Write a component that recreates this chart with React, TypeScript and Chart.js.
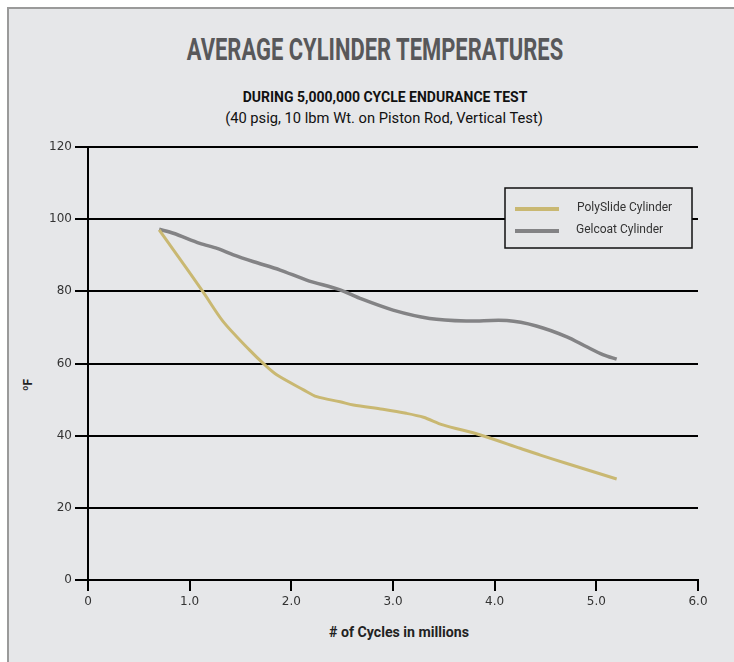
import React, { useEffect, useRef } from 'react';
import { Chart, registerables } from 'chart.js';
Chart.register(...registerables);

const polyX = [0.7, 0.84, 1.13, 1.33, 1.59, 1.74, 1.86, 2.12, 2.25, 2.48, 2.61, 2.9, 3.13, 3.3, 3.49, 3.86, 4.25, 4.45, 4.71, 5.2];
const polyY = [97.0, 91.5, 79.9, 71.6, 63.7, 59.6, 56.8, 52.7, 50.8, 49.4, 48.5, 47.3, 46.2, 45.1, 43.0, 40.2, 36.5, 34.6, 32.3, 28.0];
const gelX = [0.7, 0.84, 1.1, 1.27, 1.43, 1.63, 1.89, 2.15, 2.48, 2.67, 3.0, 3.36, 3.72, 4.12, 4.41, 4.71, 4.9, 5.07, 5.2];
const gelY = [97.2, 96.1, 93.3, 91.9, 90.1, 88.2, 85.9, 83.1, 80.4, 78.1, 74.8, 72.5, 71.8, 71.9, 70.4, 67.4, 64.7, 62.4, 61.2];
const seriesNames = ['PolySlide Cylinder', 'Gelcoat Cylinder'];
const seriesColors = ['#c9b872', '#838385'];
const xTicks = [0, 1, 2, 3, 4, 5, 6];
const yTicks = [0, 20, 40, 60, 80, 100, 120];

const BG = '#e6e7e9';
const FONT = 'Roboto, "DejaVu Sans", sans-serif';
const TICKFONT = '"DejaVu Sans", sans-serif';

const boxLegend = {
  id: 'boxLegend',
  afterDatasetsDraw(chart: any) {
    const { ctx, chartArea } = chart;
    const w = 187, h = 60;
    const x = chartArea.right - 6 - w;
    const y = chartArea.top + 41;
    ctx.save();
    ctx.fillStyle = BG;
    ctx.fillRect(x, y, w, h);
    ctx.strokeStyle = '#111';
    ctx.lineWidth = 1.5;
    ctx.strokeRect(x, y, w, h);
    chart.data.datasets.forEach((ds: any, i: number) => {
      const ly = y + 21 + i * 22;
      ctx.strokeStyle = ds.borderColor;
      ctx.lineWidth = 4;
      ctx.beginPath();
      ctx.moveTo(x + 10, ly);
      ctx.lineTo(x + 54, ly);
      ctx.stroke();
      ctx.fillStyle = '#333';
      ctx.font = '12px ' + FONT;
      ctx.textBaseline = 'middle';
      ctx.fillText(ds.label, x + 72 - i, ly - 1);
    });
    ctx.restore();
  },
};

function measure(text: string, font: string): number {
  const c = document.createElement('canvas').getContext('2d');
  if (!c) return 0;
  c.font = font;
  return c.measureText(text).width;
}

function FitText(props: { text: string; font: string; cx: number; cy: number; width: number; color: string }) {
  const m = measure(props.text, props.font);
  const s = m > 0 ? props.width / m : 1;
  return (
    <div
      style={{
        position: 'absolute', left: props.cx, top: props.cy,
        transform: `translate(-50%, -50%) scaleX(${s})`,
        whiteSpace: 'nowrap', font: props.font, color: props.color, lineHeight: 1,
      }}
    >
      {props.text}
    </div>
  );
}

export default function App() {
  const ref = useRef<HTMLCanvasElement>(null);
  useEffect(() => {
    if (!ref.current) return;
    const chart = new Chart(ref.current, {
      type: 'line',
      data: {
        datasets: [
          {
            label: seriesNames[0],
            data: polyX.map((x, i) => ({ x, y: polyY[i] })),
            borderColor: seriesColors[0],
            borderWidth: 3,
            pointRadius: 0,
            tension: 0.3,
            fill: false,
          },
          {
            label: seriesNames[1],
            data: gelX.map((x, i) => ({ x, y: gelY[i] })),
            borderColor: seriesColors[1],
            borderWidth: 3.5,
            pointRadius: 0,
            tension: 0.3,
            fill: false,
          },
        ],
      },
      options: {
        animation: false,
        responsive: false,
        maintainAspectRatio: false,
        layout: { padding: { top: 147, right: 36, bottom: 18, left: 10 } },
        plugins: { legend: { display: false }, title: { display: false }, tooltip: { enabled: false } },
        scales: {
          x: {
            type: 'linear',
            min: 0,
            max: 6,
            afterBuildTicks: (s: any) => { s.ticks = xTicks.map((v) => ({ value: v })); },
            ticks: {
              callback: (v: any) => (Number(v) === 0 ? '0' : Number(v).toFixed(1)),
              color: '#333',
              font: { family: TICKFONT, size: 12 },
              padding: 4,
              maxRotation: 0,
            },
            grid: { drawOnChartArea: false, drawTicks: true, tickLength: 11, color: '#000', lineWidth: 2 },
            border: { color: '#000', width: 2 },
            title: { display: false },
            afterFit: (s: any) => { s.height = 64; },
          },
          y: {
            min: 0,
            max: 120,
            afterBuildTicks: (s: any) => { s.ticks = yTicks.map((v) => ({ value: v })); },
            ticks: { color: '#333', font: { family: TICKFONT, size: 12 }, padding: 3 },
            grid: { color: '#000', lineWidth: 2, tickLength: 13 },
            border: { color: '#000', width: 2 },
            afterFit: (s: any) => { s.width = 78; },
          },
        },
      },
      plugins: [boxLegend],
    });
    return () => chart.destroy();
  }, []);

  return (
    <div>
      <div
        style={{
          position: 'absolute', left: 7, top: 7, width: 727, height: 655,
          background: BG, borderTop: '2px solid #9a9a9a', borderLeft: '2px solid #9a9a9a', boxSizing: 'border-box',
        }}
      />
      <FitText text="AVERAGE CYLINDER TEMPERATURES" font={'bold 31px ' + FONT} cx={375} cy={49} width={377} color="#58585a" />
      <FitText text="DURING 5,000,000 CYCLE ENDURANCE TEST" font={'bold 14px ' + FONT} cx={385} cy={97} width={285} color="#111" />
      <FitText text="(40 psig, 10 lbm Wt. on Piston Rod, Vertical Test)" font={'15px ' + FONT} cx={384} cy={118} width={318} color="#111" />
      <FitText text="# of Cycles in millions" font={'bold 15px ' + FONT} cx={399} cy={632} width={140} color="#222" />
      <div style={{ position: 'absolute', left: 28, top: 385, transform: 'translate(-50%, -50%) rotate(-90deg)', whiteSpace: 'nowrap',
        font: 'bold 12px ' + FONT, color: '#222' }}>ºF</div>
      <canvas ref={ref} width={734} height={662} style={{ position: 'absolute', left: 0, top: 0 }} />
    </div>
  );
}
